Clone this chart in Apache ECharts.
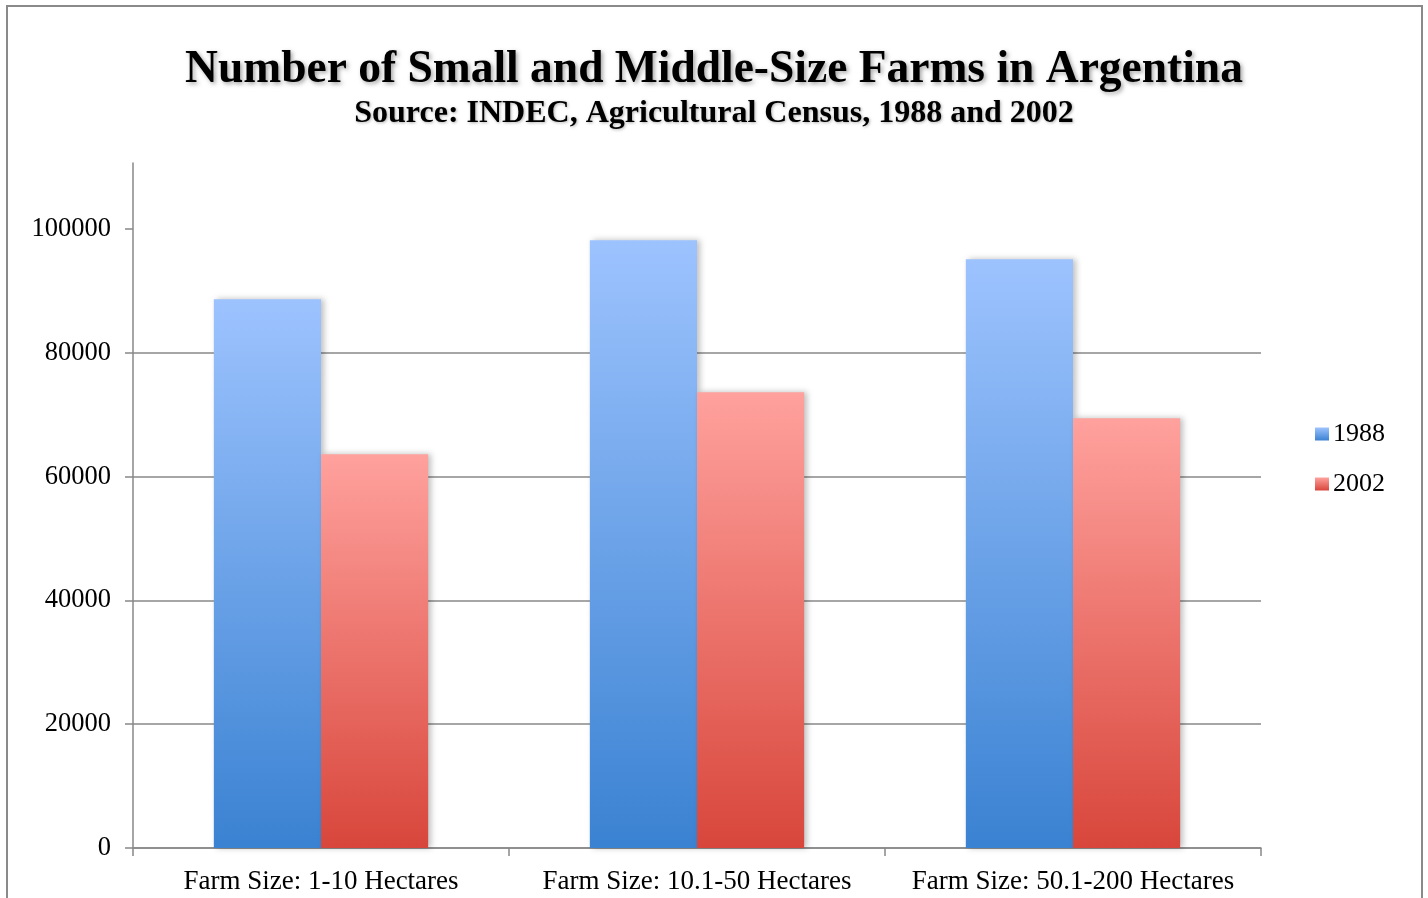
<!DOCTYPE html>
<html>
<head>
<meta charset="utf-8">
<script src="https://cdn.jsdelivr.net/npm/echarts@6/dist/echarts.min.js"></script>
<style>
  html, body { margin: 0; padding: 0; background: #fff; }
  #chart { width: 1428px; height: 898px; }
</style>
</head>
<body>
<div id="chart"></div>
<script>
  // farm size classes and counts per census
  var categories = ['Farm Size: 1-10 Hectares', 'Farm Size: 10.1-50 Hectares', 'Farm Size: 50.1-200 Hectares'];
  var years = ['1988', '2002'];
  var farms1988 = [88700, 98200, 95150];
  var farms2002 = [63650, 73650, 69450];
  var yTicks = [0, 20000, 40000, 60000, 80000, 100000];

  var serif = '"Liberation Serif", "Times New Roman", serif';

  function grad(top, bottom) {
    return new echarts.graphic.LinearGradient(0, 0, 0, 1, [
      { offset: 0, color: top },
      { offset: 1, color: bottom }
    ]);
  }

  var barShadow = {
    shadowBlur: 6,
    shadowOffsetX: 3,
    shadowOffsetY: 0,
    shadowColor: 'rgba(0,0,0,0.25)'
  };

  var myChart = echarts.init(document.getElementById('chart'));
  var option = {
    backgroundColor: '#fff',
    animation: false,
    title: {
      text: 'Number of Small and Middle-Size Farms in Argentina',
      subtext: 'Source: INDEC, Agricultural Census, 1988 and 2002',
      left: 'center',
      top: 42,
      itemGap: 5,
      textStyle: {
        fontFamily: serif, fontWeight: 'bold', fontSize: 45.5, color: '#000',
        textShadowColor: 'rgba(0,0,0,0.35)', textShadowBlur: 4,
        textShadowOffsetX: 2, textShadowOffsetY: 2
      },
      subtextStyle: {
        fontFamily: serif, fontWeight: 'bold', fontSize: 32, color: '#000',
        textShadowColor: 'rgba(0,0,0,0.3)', textShadowBlur: 3,
        textShadowOffsetX: 1, textShadowOffsetY: 1
      }
    },
    legend: {
      orient: 'vertical',
      left: 1310,
      top: 416,
      itemWidth: 14,
      itemHeight: 13,
      itemGap: 24,
      icon: 'rect',
      textStyle: { fontFamily: serif, fontSize: 26, color: '#000', padding: [0, 0, 0, -1] },
      data: years
    },
    grid: { left: 133, right: 167, top: 163, bottom: 50, containLabel: false },
    xAxis: {
      type: 'category',
      data: categories,
      boundaryGap: true,
      axisLine: { lineStyle: { color: '#888', width: 1.5 } },
      axisTick: { show: true, length: 8, inside: false, lineStyle: { color: '#888', width: 1.5 } },
      axisLabel: { fontFamily: serif, fontSize: 27, color: '#000', margin: 20, interval: 0 }
    },
    yAxis: {
      type: 'value',
      min: 0,
      max: 110700,
      interval: 20000,
      axisLine: { show: true, lineStyle: { color: '#888', width: 1.5 } },
      axisTick: { show: true, length: 8, customValues: yTicks, lineStyle: { color: '#888', width: 1.5 } },
      axisLabel: {
        fontFamily: serif, fontSize: 26.5, color: '#000', margin: 22, customValues: yTicks,
        formatter: function (v) { return String(v); }
      },
      splitLine: { show: true, showMaxLine: false, lineStyle: { color: '#888', width: 1.5 } }
    },
    series: [
      {
        name: years[0],
        type: 'bar',
        data: farms1988,
        barGap: '0%',
        barCategoryGap: '43%',
        itemStyle: Object.assign({ color: grad('#9dc3fe', '#3a82d2') }, barShadow)
      },
      {
        name: years[1],
        type: 'bar',
        data: farms2002,
        itemStyle: Object.assign({ color: grad('#ffa19d', '#d8463b') }, barShadow)
      }
    ],
    graphic: [{
      type: 'rect',
      shape: { x: 7, y: 6, width: 1415, height: 1000 },
      style: { fill: 'none', stroke: '#8a8a8a', lineWidth: 2 },
      silent: true,
      z: 100
    }]
  };
  myChart.setOption(option);
</script>
</body>
</html>
